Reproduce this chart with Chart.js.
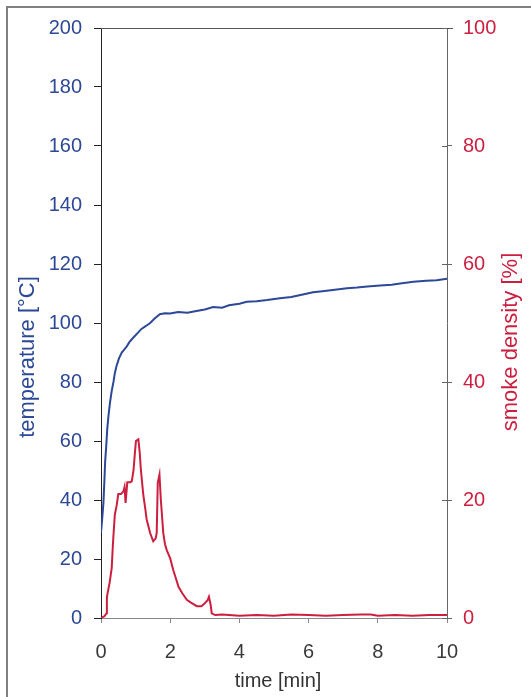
<!DOCTYPE html>
<html>
<head>
<meta charset="utf-8">
<script src="https://cdn.jsdelivr.net/npm/chart.js@4"></script>
<style>
  html, body { margin: 0; padding: 0; background: #ffffff; }
  #wrap { width: 531px; height: 697px; position: relative; }
</style>
</head>
<body>
<div id="wrap"><canvas id="c" width="531" height="697"></canvas></div>
<script>
// ---- data ----
const tempTime = [0.00,0.03,0.07,0.10,0.12,0.15,0.18,0.22,0.26,0.31,0.36,0.40,0.45,0.52,0.60,0.67,0.74,0.82,0.93,1.05,1.17,1.30,1.42,1.55,1.70,1.85,2.00,2.23,2.50,2.72,3.00,3.24,3.50,3.70,4.00,4.21,4.50,4.80,5.17,5.50,5.80,6.13,6.40,6.70,7.11,7.40,7.70,8.07,8.40,8.70,9.03,9.40,9.70,10.00];
const tempValues = [29,33,39,47,53,58,64,69,73,77,80,83,85.5,88,90,91,92,93.5,95,96.5,98,99,100,101.5,103,103.3,103.2,103.7,103.5,104,104.6,105.4,105.2,106,106.5,107.2,107.4,107.8,108.4,108.8,109.6,110.4,110.8,111.2,111.8,112.0,112.4,112.7,113.0,113.5,114,114.3,114.5,115];

const smokeTime = [0.00,0.10,0.16,0.17,0.19,0.25,0.31,0.34,0.36,0.40,0.45,0.50,0.58,0.65,0.68,0.71,0.76,0.85,0.89,0.94,0.98,1.01,1.08,1.12,1.15,1.22,1.28,1.32,1.42,1.51,1.58,1.61,1.64,1.69,1.73,1.80,1.85,1.90,2.00,2.09,2.15,2.24,2.35,2.48,2.60,2.77,2.90,3.00,3.08,3.12,3.17,3.20,3.30,3.50,4.00,4.50,5.00,5.50,6.00,6.50,7.00,7.50,7.80,8.00,8.50,9.00,9.50,10.00];
const smokeValues = [0,0.3,0.8,3.5,4.2,6,8.5,12,14,17.5,19,21,21,21.5,22.2,19.5,23,23,23.2,25,28,30,30.3,28,25.3,21,18.5,16.7,14.4,13,13.5,14.4,22.9,24.3,20,14.4,12.5,11.5,10.1,8.1,7,5.3,4.2,3.1,2.6,2.0,2.0,2.5,3.0,3.6,2.2,0.8,0.5,0.6,0.4,0.5,0.4,0.6,0.5,0.4,0.5,0.6,0.6,0.4,0.5,0.4,0.5,0.5];

const xTicks = [0,2,4,6,8,10];
const tempTicks = [0,20,40,60,80,100,120,140,160,180,200];
const smokeTicks = [0,20,40,60,80,100];

const xTitle = 'time [min]';
const tempTitle = 'temperature [°C]';
const smokeTitle = 'smoke density [%]';

// ---- styles ----
const BLUE = '#2c4896';
const RED = '#cc1f3f';
const FONT = '"Liberation Sans", Arial, sans-serif';

const tempData = tempTime.map((t, i) => ({ x: t, y: tempValues[i] }));
const smokeData = smokeTime.map((t, i) => ({ x: t, y: smokeValues[i] }));

const decor = {
  id: 'decor',
  afterDraw(chart) {
    const ctx = chart.ctx;
    const a = chart.chartArea;
    const yR = chart.scales.y2;
    ctx.save();
    // outer frame (scan border)
    ctx.strokeStyle = '#808080';
    ctx.lineWidth = 2;
    ctx.beginPath();
    ctx.moveTo(7, 697); ctx.lineTo(7, 7); ctx.lineTo(531, 7);
    ctx.stroke();
    // top border of plot
    ctx.strokeStyle = '#555';
    ctx.lineWidth = 1;
    ctx.beginPath();
    ctx.moveTo(a.left, a.top + 0.5); ctx.lineTo(a.right + 6, a.top + 0.5);
    ctx.stroke();
    // inner halves of right axis ticks
    ctx.strokeStyle = '#666';
    smokeTicks.forEach(v => {
      const py = Math.round(yR.getPixelForValue(v)) + 0.5;
      ctx.beginPath(); ctx.moveTo(a.right - 5, py); ctx.lineTo(a.right, py); ctx.stroke();
    });
    // axis titles
    ctx.textAlign = 'center';
    ctx.textBaseline = 'middle';
    ctx.font = '20px ' + FONT;
    ctx.fillStyle = '#333';
    ctx.fillText(xTitle, 278, 681);
    ctx.font = '22px ' + FONT;
    ctx.save();
    ctx.translate(28, 357); ctx.rotate(-Math.PI / 2);
    ctx.fillStyle = BLUE; ctx.fillText(tempTitle, 0, 0);
    ctx.restore();
    ctx.save();
    ctx.translate(511, 342); ctx.rotate(-Math.PI / 2);
    ctx.fillStyle = RED; ctx.fillText(smokeTitle, 0, 0);
    ctx.restore();
    ctx.restore();
  }
};

new Chart(document.getElementById('c'), {
  type: 'line',
  data: {
    datasets: [
      { label: 'temperature', data: tempData, yAxisID: 'y', borderColor: BLUE, borderWidth: 2, pointRadius: 0, tension: 0, fill: false },
      { label: 'smoke density', data: smokeData, yAxisID: 'y2', borderColor: RED, borderWidth: 2, pointRadius: 0, tension: 0, fill: false }
    ]
  },
  options: {
    responsive: false,
    animation: false,
    devicePixelRatio: 1,
    layout: { padding: { top: 28, left: 0, right: 0, bottom: 0 } },
    plugins: { legend: { display: false }, tooltip: { enabled: false } },
    scales: {
      x: {
        type: 'linear', min: 0, max: 10,
        afterBuildTicks: s => { s.ticks = xTicks.map(v => ({ value: v })); },
        afterFit: s => { s.height = 79; },
        grid: { drawOnChartArea: false, tickLength: 5, color: '#888' },
        border: { color: '#888', width: 1 },
        ticks: { color: '#3a3a3a', font: { family: FONT, size: 20 }, padding: 17, maxRotation: 0 }
      },
      y: {
        position: 'left', min: 0, max: 200,
        afterBuildTicks: s => { s.ticks = tempTicks.map(v => ({ value: v })); },
        afterFit: s => { s.width = 101; },
        grid: { drawOnChartArea: false, tickLength: 7, color: '#222' },
        border: { color: '#222', width: 1 },
        ticks: { color: BLUE, font: { family: FONT, size: 20 }, padding: 12 }
      },
      y2: {
        position: 'right', min: 0, max: 100,
        afterBuildTicks: s => { s.ticks = smokeTicks.map(v => ({ value: v })); },
        afterFit: s => { s.width = 84; },
        grid: { drawOnChartArea: false, tickLength: 5, color: '#666' },
        border: { color: '#666', width: 1 },
        ticks: { color: RED, font: { family: FONT, size: 20 }, padding: 11 }
      }
    }
  },
  plugins: [decor]
});
</script>
</body>
</html>
